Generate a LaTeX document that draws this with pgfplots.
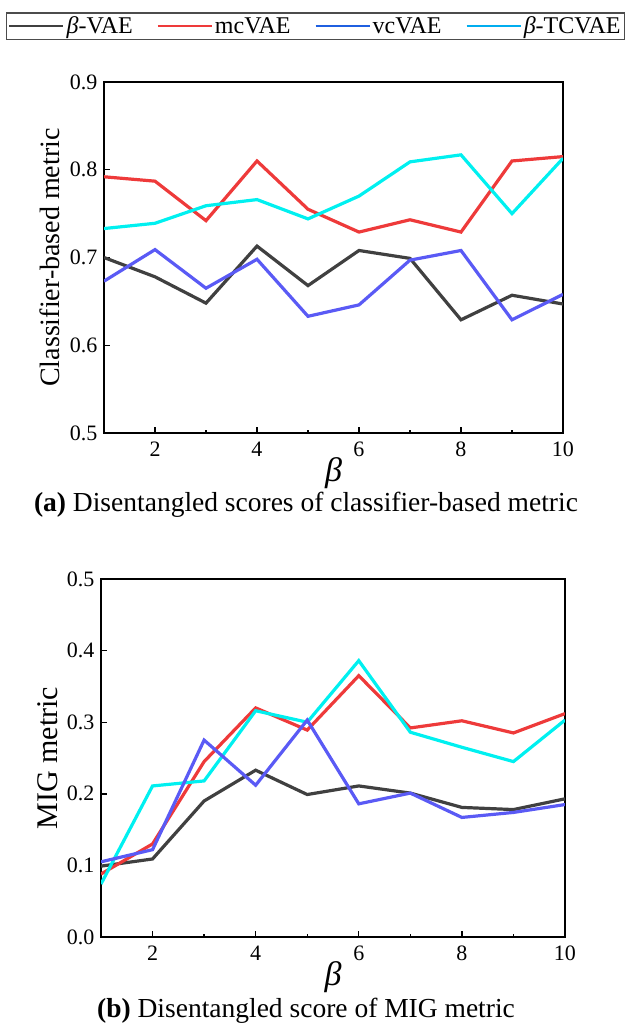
\documentclass[border=0pt]{standalone}
\usepackage{fontspec}
\setmainfont{Liberation Serif}
\usepackage{pgfplots}
\pgfplotsset{compat=1.18}
\definecolor{cblack}{HTML}{404040}
\definecolor{cred}{HTML}{EE3A3A}
\definecolor{cblue}{HTML}{5A5AF5}
\definecolor{ccyan}{HTML}{00F0F0}
\definecolor{lblue}{HTML}{1F5FE0}
\pgfplotsset{
  myaxis/.style={
    scale only axis,
    xmin=1, xmax=10,
    xtick={2,4,6,8,10},
    minor xtick={3,5,7,9},
    axis line style={line width=1.8pt},
    tick style={line width=1.4pt, black},
    major tick length=6pt,
    minor tick length=3.5pt,
    tick align=inside,
    xtick pos=bottom, ytick pos=left,
    tick label style={font=\fontsize{22}{24}\selectfont},
    xticklabel style={yshift=-5pt},
    yticklabel style={xshift=-3pt},
    /pgf/number format/assume math mode=true,
    /pgf/number format/fixed,
    /pgf/number format/fixed zerofill,
    /pgf/number format/precision=1,
    xticklabel={\pgfmathprintnumber[fixed,precision=0]{\tick}},
    xlabel={\textit{β}},
    xlabel style={font=\fontsize{34}{36}\selectfont, at={(axis description cs:0.5,0)}, anchor=center, yshift=-40pt},
    ylabel style={anchor=center},
    every axis plot/.append style={line width=3.2pt, line join=miter, forget plot},
  }
}
\begin{document}
\begin{tikzpicture}
\useasboundingbox (0pt,0pt) rectangle (627pt,-1026pt);
% ---------- top ----------
\begin{axis}[myaxis,
  at={(104pt,-433pt)}, anchor=south west,
  width=459pt, height=351pt,
  ymin=0.5, ymax=0.9,
  ytick={0.5,0.6,0.7,0.8,0.9},
  ylabel={Classifier-based metric},
  ylabel style={font=\fontsize{28}{30}\selectfont, at={(axis description cs:-0.118,0.5)}},
  legend columns=4,
  legend style={at={(axis description cs:0.5,1)}, anchor=south, xshift=-18pt, yshift=42pt,
    draw=black!70, line width=1.2pt, font=\fontsize{24}{26}\selectfont,
    inner xsep=2pt, inner ysep=2pt,
    /tikz/every even column/.append style={column sep=22pt},
    nodes={inner xsep=2pt}},
  legend image code/.code={\draw[#1] (0pt,0pt) -- (54pt,0pt);},
]
\addlegendimage{cblack, line width=2.2pt}
\addlegendentry{\textit{β}-VAE}
\addlegendimage{cred, line width=2.2pt}
\addlegendentry{mcVAE}
\addlegendimage{lblue, line width=2.2pt}
\addlegendentry{vcVAE}
\addlegendimage{cyan, line width=2.2pt}
\addlegendentry{\textit{β}-TCVAE}
\addplot[cblack] coordinates {(1,0.700)(2,0.678)(3,0.648)(4,0.713)(5,0.668)(6,0.708)(7,0.699)(8,0.629)(9,0.657)(10,0.647)};
\addplot[cblue] coordinates {(1,0.673)(2,0.709)(3,0.665)(4,0.698)(5,0.633)(6,0.646)(7,0.697)(8,0.708)(9,0.629)(10,0.658)};
\addplot[cred] coordinates {(1,0.792)(2,0.787)(3,0.742)(4,0.810)(5,0.755)(6,0.729)(7,0.743)(8,0.729)(9,0.810)(10,0.815)};
\addplot[ccyan] coordinates {(1,0.733)(2,0.739)(3,0.759)(4,0.766)(5,0.744)(6,0.770)(7,0.809)(8,0.817)(9,0.750)(10,0.813)};
\end{axis}
\node[font=\fontsize{27.5}{29}\selectfont] at (306pt,-505pt) {\textbf{(a)} Disentangled scores of classifier-based metric};
% ---------- bottom ----------
\begin{axis}[myaxis,
  at={(101pt,-937pt)}, anchor=south west,
  width=464pt, height=358pt,
  ymin=0, ymax=0.5,
  ytick={0,0.1,0.2,0.3,0.4,0.5},
  ylabel={MIG metric},
  ylabel style={font=\fontsize{30}{32}\selectfont, at={(axis description cs:-0.114,0.5)}},
]
\addplot[cblack] coordinates {(1,0.099)(2,0.109)(3,0.190)(4,0.233)(5,0.199)(6,0.211)(7,0.201)(8,0.181)(9,0.178)(10,0.193)};
\addplot[cred] coordinates {(1,0.088)(2,0.130)(3,0.245)(4,0.320)(5,0.289)(6,0.365)(7,0.292)(8,0.302)(9,0.285)(10,0.312)};
\addplot[ccyan] coordinates {(1,0.074)(2,0.211)(3,0.218)(4,0.316)(5,0.300)(6,0.386)(7,0.286)(8,0.265)(9,0.245)(10,0.303)};
\addplot[cblue] coordinates {(1,0.105)(2,0.122)(3,0.275)(4,0.212)(5,0.303)(6,0.186)(7,0.201)(8,0.167)(9,0.174)(10,0.185)};
\end{axis}
\node[font=\fontsize{27.5}{29}\selectfont] at (306pt,-1011pt) {\textbf{(b)} Disentangled score of MIG metric};
\end{tikzpicture}
\end{document}
